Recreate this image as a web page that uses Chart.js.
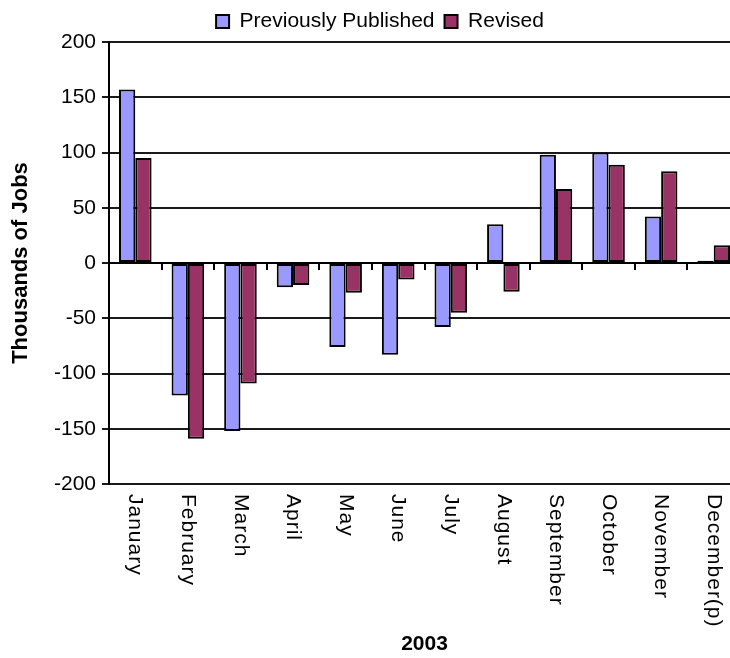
<!DOCTYPE html>
<html>
<head>
<meta charset="utf-8">
<script src="https://cdn.jsdelivr.net/npm/chart.js@4/dist/chart.umd.min.js"></script>
<style>
  html, body { margin: 0; padding: 0; background: #fff; overflow: hidden; width: 730px; height: 658px; }
  #wrap { position: relative; width: 742px; height: 658px; }
</style>
</head>
<body>
<div id="wrap"><canvas id="jobs" width="742" height="658"></canvas></div>
<script>
// Monthly payroll changes, 2003 (thousands of jobs)
const months = ['January', 'February', 'March', 'April', 'May', 'June', 'July',
                'August', 'September', 'October', 'November', 'December(p)'];
const previouslyPublished = [157, -120, -152, -22, -76, -83, -58, 35, 98, 100, 42, 2];
const revised = [95, -159, -109, -20, -27, -15, -45, -26, 67, 89, 83, 16];
const yMin = -200, yMax = 200, yStep = 50;

const FONT = '"Liberation Sans", Arial, sans-serif';

// Month names run top-to-bottom under each category
const monthLabels = {
  id: 'monthLabels',
  afterDraw(chart) {
    const xs = chart.scales.x;
    const ctx = chart.ctx;
    ctx.save();
    ctx.font = '21px ' + FONT;
    ctx.letterSpacing = '1px';
    ctx.fillStyle = '#000';
    ctx.textAlign = 'left';
    ctx.textBaseline = 'middle';
    months.forEach((m, i) => {
      ctx.save();
      ctx.translate(xs.getPixelForValue(i), chart.chartArea.bottom + 10);
      ctx.rotate(Math.PI / 2);
      ctx.fillText(m, 0, 0);
      ctx.restore();
    });
    ctx.restore();
  }
};

new Chart(document.getElementById('jobs'), {
  type: 'bar',
  data: {
    labels: months,
    datasets: [
      {
        label: 'Previously Published',
        data: previouslyPublished,
        backgroundColor: '#9999FF',
        borderColor: '#000',
        borderWidth: 2,
        borderSkipped: false
      },
      {
        label: 'Revised',
        data: revised,
        backgroundColor: '#993366',
        borderColor: '#000',
        borderWidth: 2,
        borderSkipped: false
      }
    ]
  },
  options: {
    responsive: false,
    animation: false,
    datasets: { bar: { categoryPercentage: 0.62, barPercentage: 1 } },
    layout: { padding: { top: 1, left: 20, right: 2, bottom: 0 } },
    plugins: {
      legend: {
        position: 'top',
        labels: {
          font: { family: FONT, size: 21 },
          color: '#000',
          boxWidth: 13,
          boxHeight: 13,
          padding: 10
        }
      },
      tooltip: { enabled: false }
    },
    scales: {
      x: {
        ticks: { display: false },
        grid: { display: false },
        border: { display: false },
        title: {
          display: true,
          text: '2003',
          color: '#000',
          font: { family: FONT, size: 21, weight: 'bold' },
          padding: { top: 0, bottom: 1 }
        },
        afterFit(s) { s.height = 174; }
      },
      // category axis line with its tick marks, drawn across at zero
      x0: {
        axis: 'x',
        type: 'category',
        labels: months,
        offset: true,
        position: { y: 0 },
        ticks: { display: false },
        grid: { offset: true, drawOnChartArea: false, drawTicks: true, tickLength: 6, color: '#000', lineWidth: 2 },
        border: { display: true, color: '#000', width: 2 }
      },
      y: {
        min: yMin,
        max: yMax,
        ticks: {
          stepSize: yStep,
          color: '#000',
          font: { family: FONT, size: 21 },
          padding: 6
        },
        grid: { color: '#1a1a1a', lineWidth: 2, drawTicks: true, tickLength: 7 },
        border: { display: true, color: '#000', width: 2 },
        title: {
          display: true,
          text: 'Thousands of Jobs',
          color: '#000',
          font: { family: FONT, size: 22, weight: 'bold' },
          padding: { top: -12, bottom: 0 }
        },
        afterFit(s) { s.width = 89; }
      }
    }
  },
  plugins: [monthLabels]
});
</script>
</body>
</html>
